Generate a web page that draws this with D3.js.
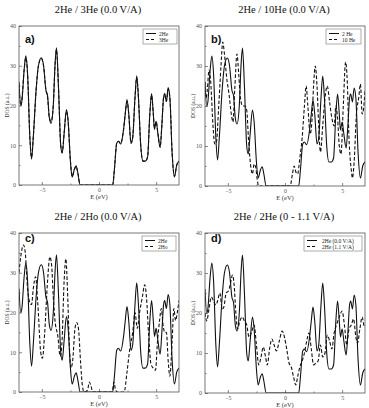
<!DOCTYPE html>
<html>
<head>
<meta charset="UTF-8">
<script src="https://cdn.jsdelivr.net/npm/d3@7"></script>
<style>
  body { margin: 0; background: #fff; }
  svg { display: block; }
</style>
</head>
<body>
<script>
// Werte: [E (eV), DOS (a.u.)]
const he2_00 = [[-7,26],[-6.85,20],[-6.75,21],[-6.55,29],[-6.4,32.5],[-6.25,28],[-6.05,12],[-5.9,6.5],[-5.75,12],[-5.5,24],[-5.3,30],[-5.05,32],[-4.85,30],[-4.65,24],[-4.5,22.5],[-4.35,17],[-4.2,15.5],[-4.0,20],[-3.85,30],[-3.72,34.5],[-3.55,25],[-3.35,10],[-3.22,8],[-3.05,13],[-2.85,19],[-2.7,16],[-2.5,6],[-2.35,2],[-2.15,4],[-2.0,4.8],[-1.85,3],[-1.65,0],[1.2,0],[1.35,4],[1.55,10.5],[1.7,11],[1.9,10.3],[2.15,14],[2.3,18],[2.45,21.5],[2.6,18],[2.8,10.5],[2.95,12],[3.15,22],[3.3,27.5],[3.45,22],[3.65,10],[3.85,6],[4.05,6],[4.25,7],[4.45,18],[4.6,23],[4.75,18],[4.85,14],[5.0,16],[5.15,13],[5.35,9.5],[5.5,15],[5.65,22],[5.75,23],[5.9,21],[6.05,24.5],[6.2,22],[6.4,8],[6.6,2],[6.8,5],[7.0,6]];

const he3_00 = [[-7,25.5],[-6.85,20],[-6.75,21.5],[-6.55,29],[-6.4,32],[-6.25,28],[-6.05,12],[-5.9,7],[-5.75,12],[-5.5,24],[-5.3,30],[-5.05,31.8],[-4.85,30],[-4.65,24],[-4.5,22],[-4.35,17],[-4.2,16],[-4.0,20],[-3.85,30],[-3.72,34],[-3.55,25],[-3.35,10],[-3.22,8.2],[-3.05,13],[-2.85,18.5],[-2.7,16],[-2.5,6],[-2.35,2.2],[-2.15,4],[-2.0,4.6],[-1.85,3],[-1.65,0],[1.2,0],[1.35,4],[1.55,10.5],[1.7,11],[1.9,10.5],[2.15,14],[2.3,18],[2.45,21],[2.6,18],[2.8,10.5],[2.95,12],[3.15,22],[3.3,27],[3.45,22],[3.65,10],[3.85,6],[4.05,6],[4.25,7],[4.45,18],[4.6,22.5],[4.75,18],[4.85,14.5],[5.0,16],[5.15,13],[5.35,9.5],[5.5,15],[5.65,22],[5.75,22.5],[5.9,21],[6.05,24],[6.2,22],[6.4,8],[6.6,2.2],[6.8,5],[7.0,6]];

const he10_00 = [[-7,26],[-6.9,22],[-6.8,24],[-6.65,29],[-6.5,26],[-6.3,15],[-6.15,10.5],[-6.0,11],[-5.8,20],[-5.6,30],[-5.45,36],[-5.3,33],[-5.1,27],[-4.9,23],[-4.7,18],[-4.55,16],[-4.4,24],[-4.2,33],[-4.05,28],[-3.9,22],[-3.7,20],[-3.5,20],[-3.35,19],[-3.2,12],[-3.0,5],[-2.85,3],[-2.7,5.5],[-2.55,4.5],[-2.45,2],[-2.3,0],[0.45,0],[0.65,3],[0.8,5],[0.95,3.5],[1.1,3],[1.3,7],[1.5,12],[1.7,20],[1.85,25],[2.0,20],[2.2,13],[2.35,16],[2.5,25],[2.65,30],[2.8,25],[2.95,15],[3.1,8.5],[3.3,15],[3.5,22],[3.7,25],[3.9,21],[4.1,17],[4.3,15],[4.45,20],[4.6,17],[4.75,10],[4.9,8],[5.1,20],[5.3,31],[5.45,26],[5.6,12],[5.8,4],[5.9,2],[6.05,6],[6.25,18],[6.45,22],[6.6,25.5],[6.75,18],[6.9,20],[7.0,24]];

const ho2_00 = [[-7,30],[-6.85,34],[-6.6,37],[-6.45,35],[-6.25,26],[-6.05,22.5],[-5.9,22],[-5.75,26],[-5.55,29],[-5.35,22],[-5.1,10],[-4.95,8.5],[-4.75,15],[-4.5,28],[-4.3,34],[-4.15,32],[-4.0,24],[-3.85,18],[-3.6,14],[-3.4,9],[-3.25,12],[-3.05,28],[-2.9,33.5],[-2.75,25],[-2.6,12],[-2.45,6],[-2.3,8],[-2.1,16],[-1.95,17.5],[-1.8,16],[-1.6,7],[-1.45,1.5],[-1.3,0],[-1.0,0.5],[-0.85,2.5],[-0.7,1.5],[-0.55,0],[1.15,0],[1.3,2.5],[1.45,0.5],[1.6,0],[2.2,0],[2.45,5],[2.7,11],[2.95,15],[3.15,20],[3.35,16],[3.55,20],[3.8,24],[4.0,27],[4.15,24],[4.35,14],[4.55,7],[4.75,6],[4.95,5.5],[5.1,12],[5.3,18],[5.45,21],[5.6,17],[5.75,15],[5.9,15],[6.05,8],[6.2,4],[6.4,13],[6.55,21],[6.7,18],[6.85,20],[7.0,23]];

const he2_11 = [[-7,20],[-6.85,18],[-6.65,21],[-6.45,24],[-6.25,23],[-6.05,22],[-5.9,23],[-5.7,25],[-5.5,21],[-5.35,21.5],[-5.15,25],[-4.95,25.5],[-4.8,27],[-4.6,29.5],[-4.45,27],[-4.3,20],[-4.15,16],[-3.95,18],[-3.75,19],[-3.55,18],[-3.35,17],[-3.15,14],[-2.95,15],[-2.7,17],[-2.5,12],[-2.3,7],[-2.1,9],[-1.9,11.5],[-1.7,9],[-1.55,7],[-1.35,11],[-1.15,13.5],[-0.95,12],[-0.75,10.5],[-0.5,13],[-0.25,15.5],[-0.05,14],[0.15,11],[0.35,7.5],[0.55,6.5],[0.75,4],[0.95,2],[1.1,4],[1.3,6.5],[1.5,8],[1.7,10],[1.9,13],[2.1,15],[2.3,11],[2.5,7],[2.7,7.5],[2.9,8],[3.1,12],[3.3,9],[3.5,10],[3.7,14.5],[3.9,13],[4.1,11],[4.3,15],[4.5,17],[4.75,19],[5.0,20.5],[5.2,17],[5.4,12],[5.6,16],[5.8,17],[6.0,18.5],[6.2,14],[6.35,12.5],[6.55,16],[6.75,19],[6.9,17],[7.0,16.5]];

const xTicks = [-5, 0, 5];
const yTicks = [0, 10, 20, 30, 40];

// Panels: Titel, Label, Legende, Kurven
const panels = [
  {title: "2He / 3He (0.0 V/A)", label: "a)", x: 19, y: 26, w: 160, h: 159,
   leg: {x: 143, y: 29, w: 34}, series: [[he2_00, "2He"], [he3_00, "3He"]]},
  {title: "2He / 10He (0.0 V/A)", label: "b)", x: 205, y: 26, w: 160, h: 160,
   leg: {x: 326, y: 29, w: 35}, series: [[he2_00, "2 He"], [he10_00, "10 He"]]},
  {title: "2He / 2Ho (0.0 V/A)", label: "c)", x: 19, y: 233, w: 160, h: 159,
   leg: {x: 142, y: 236, w: 34}, series: [[he2_00, "2He"], [ho2_00, "2Ho"]]},
  {title: "2He / 2He (0 - 1.1 V/A)", label: "d)", x: 205, y: 233, w: 160, h: 160,
   leg: {x: 304, y: 236, w: 58}, series: [[he2_00, "2He (0.0 V/A)"], [he2_11, "2He (1.1 V/A)"]]}
];

const svg = d3.select("body").append("svg")
  .attr("width", 369)
  .attr("height", 408);

const serif = "'Liberation Serif', 'DejaVu Serif', serif";

panels.forEach(function (p, i) {
  const sx = d3.scaleLinear().domain([-7, 7]).range([p.x, p.x + p.w]);
  const sy = d3.scaleLinear().domain([0, 40]).range([p.y + p.h, p.y]);

  // Titel
  svg.append("text")
    .attr("x", p.x + p.w / 2 - 1)
    .attr("y", p.y - 13)
    .attr("text-anchor", "middle")
    .attr("font-family", serif)
    .attr("font-size", "10.5px")
    .attr("fill", "#111")
    .text(p.title);

  svg.append("clipPath").attr("id", "clip" + i)
    .append("rect")
    .attr("x", p.x).attr("y", p.y).attr("width", p.w).attr("height", p.h);

  // Achsen (Ticks nach innen)
  const xa = svg.append("g")
    .attr("transform", "translate(0," + (p.y + p.h) + ")")
    .call(d3.axisBottom(sx).tickValues(xTicks).tickSizeInner(-3).tickSizeOuter(0).tickPadding(2.5));
  svg.append("g")
    .attr("transform", "translate(0," + (p.y + p.h) + ")")
    .call(d3.axisBottom(sx).tickValues([-2.5, 2.5]).tickSizeInner(-1.5).tickSizeOuter(0).tickFormat(""));
  const ya = svg.append("g")
    .attr("transform", "translate(" + p.x + ",0)")
    .call(d3.axisLeft(sy).tickValues(yTicks).tickSizeInner(-3).tickSizeOuter(0).tickPadding(3));
  svg.append("g")
    .attr("transform", "translate(" + p.x + ",0)")
    .call(d3.axisLeft(sy).tickValues([5, 15, 25, 35]).tickSizeInner(-1.5).tickSizeOuter(0).tickFormat(""));
  svg.selectAll(".domain").remove();
  svg.selectAll(".tick line").attr("stroke", "#555").attr("stroke-width", 0.7);
  [xa, ya].forEach(function (g) {
    g.selectAll("text")
      .attr("font-family", serif)
      .attr("font-size", "6px")
      .attr("fill", "#555");
  });

  // Kurven
  const line = d3.line()
    .x(function (d) { return sx(d[0]); })
    .y(function (d) { return sy(d[1]); })
    .curve(d3.curveMonotoneX);

  p.series.forEach(function (s, k) {
    svg.append("path")
      .datum(s[0])
      .attr("clip-path", "url(#clip" + i + ")")
      .attr("d", line)
      .attr("fill", "none")
      .attr("stroke", "#111")
      .attr("stroke-width", 1.1)
      .attr("stroke-dasharray", k === 0 ? null : "3.5,2");
  });

  // Rahmen
  svg.append("rect")
    .attr("x", p.x).attr("y", p.y).attr("width", p.w).attr("height", p.h)
    .attr("fill", "none")
    .attr("stroke", "#555")
    .attr("stroke-width", 0.8);

  // Panel-Label
  svg.append("text")
    .attr("x", p.x + 6)
    .attr("y", p.y + (i < 2 ? 17 : 9))
    .attr("font-family", "'Liberation Sans', Arial, sans-serif")
    .attr("font-weight", "bold")
    .attr("font-size", "11px")
    .attr("fill", "#111")
    .text(p.label);

  // Legende
  const lg = svg.append("g");
  lg.append("rect")
    .attr("x", p.leg.x).attr("y", p.leg.y).attr("width", p.leg.w).attr("height", 15)
    .attr("fill", "#fff").attr("stroke", "#777").attr("stroke-width", 0.6);
  p.series.forEach(function (s, k) {
    const ly = p.leg.y + 4.5 + k * 6;
    lg.append("line")
      .attr("x1", p.leg.x + 3).attr("x2", p.leg.x + 13)
      .attr("y1", ly).attr("y2", ly)
      .attr("stroke", "#111").attr("stroke-width", 1)
      .attr("stroke-dasharray", k === 0 ? null : "3,2");
    lg.append("text")
      .attr("x", p.leg.x + (p.leg.w > 40 ? 18 : 16))
      .attr("y", ly + 2)
      .attr("font-family", serif)
      .attr("font-size", "5.5px")
      .attr("fill", "#222")
      .text(s[1]);
  });

  // Achsenbeschriftungen
  svg.append("text")
    .attr("x", sx(0))
    .attr("y", p.y + p.h + 13.5)
    .attr("text-anchor", "middle")
    .attr("font-family", serif)
    .attr("font-size", "6.5px")
    .attr("fill", "#333")
    .text("E (eV)");

  svg.append("text")
    .attr("transform", "translate(" + (p.x - 10) + "," + (p.y + p.h / 2) + ") rotate(-90)")
    .attr("text-anchor", "middle")
    .attr("font-family", serif)
    .attr("font-size", "5.5px")
    .attr("fill", "#333")
    .text("DOS (a.u.)");
});
</script>
</body>
</html>
